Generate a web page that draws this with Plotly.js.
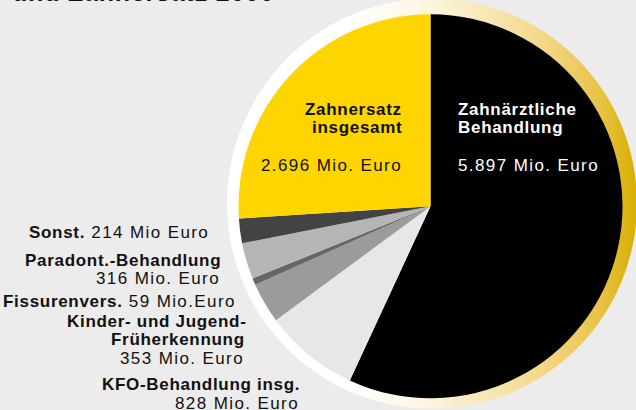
<!DOCTYPE html>
<html>
<head>
<meta charset="utf-8">
<script src="https://cdn.plot.ly/plotly-3.0.1.min.js"></script>
<style>
html,body{margin:0;padding:0;background:#ececec;}
#chart{width:636px;height:410px;}
</style>
</head>
<body>
<div id="chart"></div>
<script>
// ---- data (clockwise from 12 o'clock) ----
var labels = ["Zahnärztliche Behandlung", "KFO-Behandlung insg.", "Kinder- und Jugend-Früherkennung", "Fissurenvers.", "Paradont.-Behandlung", "Sonst.", "Zahnersatz insgesamt"];
var values = [5897, 828, 353, 59, 316, 214, 2696];
var units = [" Mio. Euro", " Mio. Euro", " Mio. Euro", " Mio.Euro", " Mio. Euro", " Mio Euro", " Mio. Euro"];
var colors = ["#000000", "#e7e7e9", "#9b9b9b", "#666666", "#b5b5b5", "#434345", "#ffd500"];
var titleText = "und Zahnersatz 2000";

function fmt(v){ return String(v).replace(/\B(?=(\d{3})+(?!\d))/g, "."); }
function valText(i){ return fmt(values[i]) + units[i]; }

var W = 636, H = 410;
function px(x){ return x / W; }
function py(y){ return 1 - y / H; }

var BOLD = "letter-spacing:0.7px;font-weight:bold";
var REG = "letter-spacing:1.4px";
function b(t){ return '<span style="' + BOLD + '">' + t + '</span>'; }
function r(t){ return '<span style="' + REG + '">' + t + '</span>'; }

function ann(text, x, y, anchor, color, size){
  return {
    text: text, xref: "paper", yref: "paper", x: px(x), y: py(y),
    xanchor: anchor, yanchor: "middle", align: anchor, showarrow: false,
    font: {family: "Liberation Sans, Arial, sans-serif", size: size || 17, color: color || "#111111"}
  };
}

var annotations = [
  // Zahnersatz (yellow)
  ann(b("Zahnersatz"), 404, 109.5, "right"),
  ann(b("insgesamt"), 404, 127.5, "right"),
  ann(r(valText(6)), 404, 165.5, "right"),
  // Zahnärztliche Behandlung (black)
  ann(b("Zahnärztliche"), 456, 109.5, "left", "#ffffff"),
  ann(b("Behandlung"), 456, 127.5, "left", "#ffffff"),
  ann(r(valText(0)), 456, 165.5, "left", "#ffffff"),
  // left side labels
  ann(b("Sonst.") + r(" " + valText(5)), 211, 233, "right"),
  ann(b("Paradont.-Behandlung"), 223, 260, "right"),
  ann(r(valText(4)), 222, 278.5, "right"),
  ann(b("Fissurenvers.") + r(" " + valText(3)), 237.5, 301.5, "right"),
  ann(b("Kinder- und Jugend-"), 248.5, 321.3, "right"),
  ann(b("Früherkennung"), 246.5, 339.5, "right"),
  ann(r(valText(2)), 246, 358, "right"),
  ann(b("KFO-Behandlung insg."), 302, 384, "right"),
  ann(r(valText(1)), 301, 403, "right"),
  // clipped title
  {
    text: '<span style="letter-spacing:0.8px;font-weight:bold">' + titleText + '</span>',
    xref: "paper", yref: "paper", x: px(10), y: py(-7.5), xanchor: "left", yanchor: "middle",
    showarrow: false, font: {family: "Liberation Sans, Arial, sans-serif", size: 25, color: "#111111"}
  }
];

var ringSvg = "<svg xmlns='http://www.w3.org/2000/svg' width='410' height='410' viewBox='0 0 410 410'>" +
  "<defs><linearGradient id='g' x1='0' y1='0' x2='1' y2='0'>" +
  "<stop offset='0' stop-color='#ffffff'/>" +
  "<stop offset='0.3' stop-color='#ffffff'/>" +
  "<stop offset='0.5' stop-color='#fcf5de'/>" +
  "<stop offset='0.76' stop-color='#f4d98c'/>" +
  "<stop offset='0.91' stop-color='#e8c346'/>" +
  "<stop offset='1' stop-color='#d6ae00'/>" +
  "</linearGradient></defs>" +
  "<circle cx='205' cy='205' r='205' fill='url(#g)'/></svg>";

var cx = 430.5, cy = 206.3, R = 192;

var trace = {
  type: "pie",
  labels: labels,
  values: values,
  sort: false,
  direction: "clockwise",
  rotation: 0,
  textinfo: "none",
  hoverinfo: "none",
  marker: {colors: colors, line: {width: 0}},
  domain: {x: [px(cx - R), px(cx + R)], y: [py(cy + R), py(cy - R)]},
  showlegend: false
};

var layout = {
  width: W, height: H,
  margin: {l: 0, r: 0, t: 0, b: 0},
  paper_bgcolor: "#ececec",
  plot_bgcolor: "#ececec",
  showlegend: false,
  annotations: annotations,
  images: [{
    source: "data:image/svg+xml;charset=utf-8," + encodeURIComponent(ringSvg),
    xref: "paper", yref: "paper",
    x: px(227), y: py(-1.5), sizex: 410 / W, sizey: 410 / H,
    xanchor: "left", yanchor: "top", sizing: "stretch", layer: "below"
  }]
};

Plotly.newPlot("chart", [trace], layout, {staticPlot: true, displayModeBar: false});
</script>
</body>
</html>
